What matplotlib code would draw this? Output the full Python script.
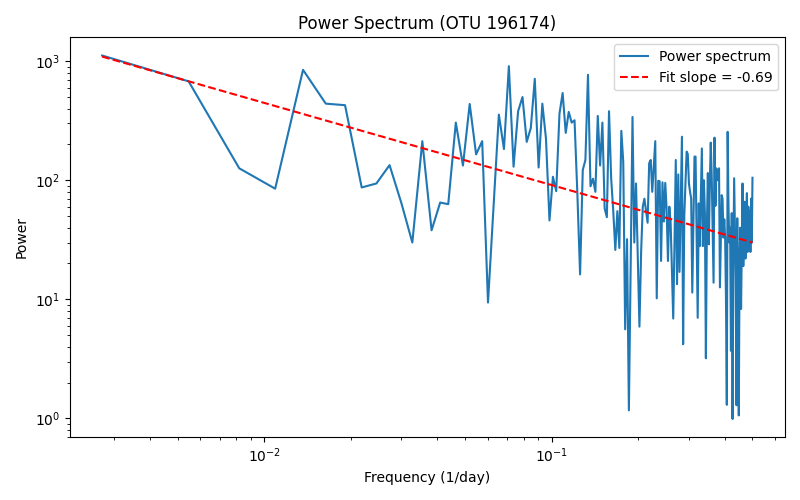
# power spectrum of one OTU time series, log-log with power-law fit

import matplotlib
matplotlib.use("Agg")
import matplotlib.pyplot as plt
import numpy as np

otu_id = "196174"
n_days = 366

# power at frequencies k / n_days, k = 1..183
power = [
    1116, 677, 126, 85, 846, 440, 427, 87, 94, 134,
    64, 30, 213, 38, 65, 63, 305, 133, 437, 165,
    213, 9.4, 60, 356, 183, 908, 130, 380, 500, 210,
    275, 711, 128, 440, 224, 46, 107, 81, 363, 540,
    250, 375, 305, 319, 78, 16.2, 122, 148, 769, 89,
    103, 80, 347, 133, 305, 58, 49, 380, 104, 55,
    26, 55, 27, 260, 143, 5.6, 32, 1.17, 20, 340,
    30, 94, 24, 5.9, 25, 60, 70, 55, 44, 139,
    148, 80, 130, 213, 10.2, 99, 98, 21, 96, 45,
    95, 57, 21, 60, 44, 17, 6.9, 30, 148, 13.4,
    112, 17, 60, 232, 4.2, 51, 95, 174, 166, 94,
    80, 70, 11.4, 42, 158, 158, 33, 7, 64, 28,
    72, 185, 28, 100, 53, 3.2, 40, 115, 29, 90,
    207, 111, 40, 13.8, 228, 61, 126, 100, 115, 126,
    12.6, 30, 75, 70, 33, 47, 33, 10, 1.3, 255,
    60, 30, 40, 3.7, 53, 0.99, 20, 104, 40, 15,
    1.29, 48, 10, 1.06, 20, 40, 8.3, 30, 94, 19,
    35, 66, 22, 40, 78, 25, 60, 30, 55, 25,
    70, 30, 105,
]

# power-law fit  P = 10**fit_log_a * f**fit_slope
fit_slope = -0.69
fit_log_a = 1.27

freq = np.arange(1, len(power) + 1) / n_days
power = np.array(power)
fit = 10 ** fit_log_a * freq ** fit_slope

plt.figure(figsize=(8, 5), dpi=100)
plt.loglog(freq, power, label="Power spectrum")
plt.loglog(freq, fit, "r--", label=f"Fit slope = {fit_slope:.2f}")
plt.xlabel("Frequency (1/day)")
plt.ylabel("Power")
plt.title(f"Power Spectrum (OTU {otu_id})")
plt.legend(loc="upper right")
plt.tight_layout()
plt.savefig("out.png")
